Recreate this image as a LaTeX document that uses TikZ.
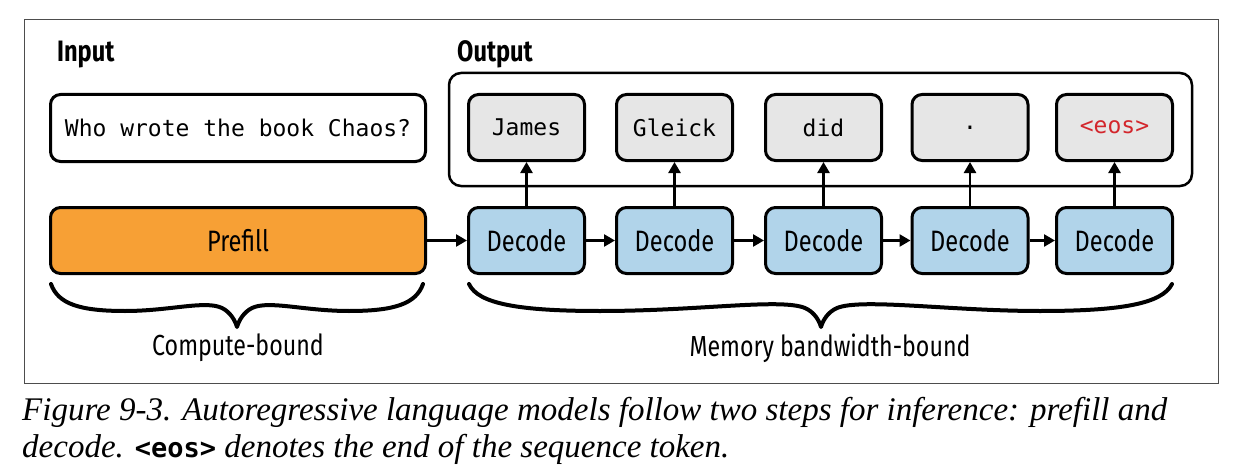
\documentclass[tikz,border=0pt]{standalone}
\usepackage{fontspec}
\setmainfont{Liberation Serif}
\setmonofont{DejaVu Sans Mono}
\newfontfamily\condfont[FakeStretch=0.8]{Fira Sans}
\usetikzlibrary{arrows.meta}
\definecolor{prefillc}{HTML}{F7A035}
\definecolor{decodec}{HTML}{B1D4EA}
\definecolor{tokc}{HTML}{E6E6E6}
\definecolor{eosc}{HTML}{D3262C}
\definecolor{framec}{HTML}{4D4D4D}
\begin{document}
\begin{tikzpicture}[x=1pt,y=-1pt,
 box/.style={draw=black, line width=3pt, rounded corners=10pt, inner sep=0pt},
 tok/.style={box, fill=tokc, minimum width=116pt, minimum height=66pt, font=\fontsize{23}{23}\selectfont\ttfamily},
 dec/.style={box, fill=decodec, minimum width=116pt, minimum height=66pt, font=\condfont\fontsize{29.5}{29.5}\selectfont},
 arr/.style={line width=2.5pt, -{Triangle[length=11pt,width=12pt]}},
 brace/.style={line width=4pt, line cap=round, line join=round},
 lbl/.style={font=\condfont\fontsize{29}{29}\selectfont, inner sep=0pt, anchor=base},
 head/.style={font=\condfont\bfseries\fontsize{29.5}{29.5}\selectfont, inner sep=0pt, anchor=base west},
 captxt/.style={font=\itshape\fontsize{33}{33}\selectfont, inner sep=0pt, anchor=base west},
]
\useasboundingbox (0,0) rectangle (1242,476);
\draw[framec, line width=1pt] (24,20) rectangle (1218,383);

\node[head] (inlbl) at (57,62) {Input};
\node[head] (outlbl) at (457,62) {Output};

\node[box, minimum width=375pt, minimum height=67pt, font=\fontsize{23}{23}\selectfont\ttfamily] (input) at (238,128) {Who wrote the book Chaos?};

\draw[line width=2.5pt, rounded corners=12pt] (449,73) rectangle (1192,186);

\node[tok] (t1) at (526.5,127.5) {James};
\node[tok] (t2) at (674.5,127.5) {Gleick};
\node[tok] (t3) at (823.5,127.5) {did};
\node[tok] (t4) at (970,127.5) {.};
\node[tok, text=eosc] (t5) at (1114.5,127.5) {<eos>};

\node[box, fill=prefillc, minimum width=375pt, minimum height=66pt, font=\condfont\fontsize{29.5}{29.5}\selectfont] (prefill) at (238,240.5) {Prefill};
\node[dec] (d1) at (526.5,240.5) {Decode};
\node[dec] (d2) at (674.5,240.5) {Decode};
\node[dec] (d3) at (823.5,240.5) {Decode};
\node[dec] (d4) at (970,240.5) {Decode};
\node[dec] (d5) at (1114.5,240.5) {Decode};

\draw[arr] (prefill) -- (d1);
\draw[arr] (d1) -- (d2);
\draw[arr] (d2) -- (d3);
\draw[arr] (d3) -- (d4);
\draw[arr] (d4) -- (d5);
\foreach \i in {1,...,5} { \draw[arr] (d\i) -- (t\i); }

% braces
\draw[brace] (51,284) .. controls (58,304) and (80,311) .. (125,311)
  .. controls (170,311) and (205,300) .. (222,308)
  .. controls (230,312) and (235,320) .. (237,327)
  .. controls (239,320) and (244,312) .. (252,308)
  .. controls (269,300) and (304,311) .. (349,311)
  .. controls (394,311) and (416,304) .. (423,284);
\draw[brace] (469,284) .. controls (478,304) and (520,311) .. (600,311)
  .. controls (700,311) and (780,298) .. (805,308)
  .. controls (814,312) and (819,320) .. (821,327)
  .. controls (823,320) and (828,312) .. (837,308)
  .. controls (862,298) and (950,311) .. (1040,311)
  .. controls (1120,311) and (1162,304) .. (1172,284);

\node[lbl] (cb) at (238,355) {Compute-bound};
\node[lbl] (mb) at (830,356) {Memory bandwidth-bound};

\node[captxt] (cap1) at (22,420) {Figure 9-3. Autoregressive language models follow two steps for inference: prefill and};
\node[captxt] (cap2) at (22,457) {decode. {\upshape\ttfamily\bfseries\fontsize{27}{27}\selectfont <eos>} denotes the end of the sequence token.};
\end{tikzpicture}
\end{document}
